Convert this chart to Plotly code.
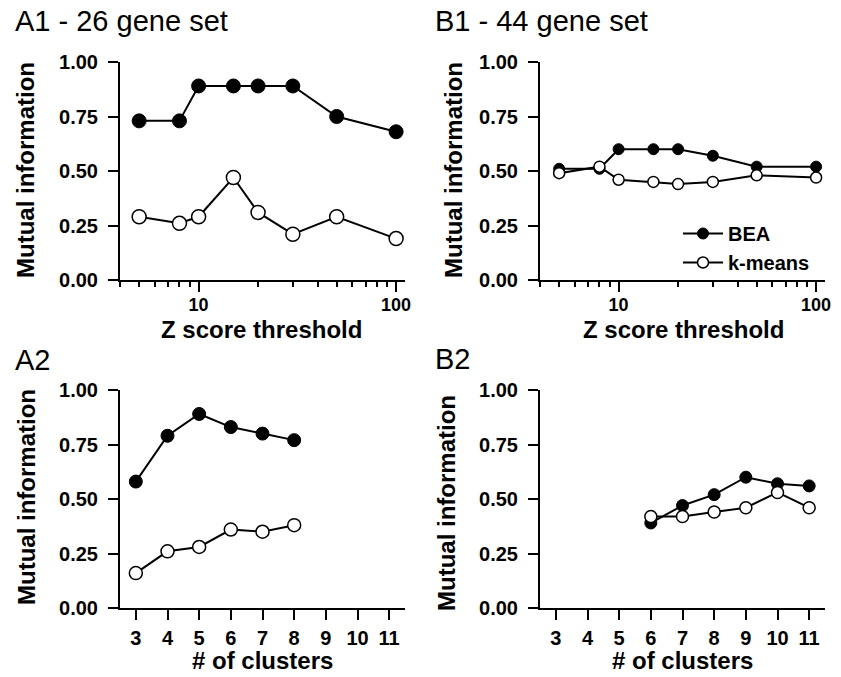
import plotly.graph_objects as go

# ---------------- data ----------------
z_thresholds = [5, 8, 10, 15, 20, 30, 50, 100]
a1_bea = [0.73, 0.73, 0.89, 0.89, 0.89, 0.89, 0.75, 0.68]
a1_kmeans = [0.29, 0.26, 0.29, 0.47, 0.31, 0.21, 0.29, 0.19]
b1_bea = [0.51, 0.51, 0.60, 0.60, 0.60, 0.57, 0.52, 0.52]
b1_kmeans = [0.49, 0.52, 0.46, 0.45, 0.44, 0.45, 0.48, 0.47]

a2_clusters = [3, 4, 5, 6, 7, 8]
a2_bea = [0.58, 0.79, 0.89, 0.83, 0.80, 0.77]
a2_kmeans = [0.16, 0.26, 0.28, 0.36, 0.35, 0.38]

b2_clusters = [6, 7, 8, 9, 10, 11]
b2_bea = [0.39, 0.47, 0.52, 0.60, 0.57, 0.56]
b2_kmeans = [0.42, 0.42, 0.44, 0.46, 0.53, 0.46]

y_ticks = [0, 0.25, 0.5, 0.75, 1.0]
log_major = [10, 100]
log_minor = [4, 5, 6, 7, 8, 9, 20, 30, 40, 50, 60, 70, 80, 90]
cluster_ticks = [3, 4, 5, 6, 7, 8, 9, 10, 11]

panel_titles = ["A1 - 26 gene set", "B1 - 44 gene set", "A2", "B2"]
series_names = ["BEA", "k-means"]

# ---------------- layout helpers ----------------
W, H = 841, 677
FONT = "Liberation Sans, Arial, sans-serif"

def px_x(v):
    return v / W

def px_y(v):
    return 1 - v / H

panels = {
    "A1": dict(x0=120, x1=405, y0=62, y1=280),
    "B1": dict(x0=540, x1=825, y0=62, y1=280),
    "A2": dict(x0=120, x1=405, y0=390, y1=608),
    "B2": dict(x0=540, x1=825, y0=390, y1=608),
}

fig = go.Figure()

def add_series(xs, bea, km, xa, ya, size, show):
    fig.add_trace(go.Scatter(
        x=xs, y=bea, mode="lines+markers", name=series_names[0],
        xaxis=xa, yaxis=ya, showlegend=show, legendgroup="bea",
        line=dict(color="black", width=2),
        marker=dict(symbol="circle", size=size, color="black",
                    line=dict(color="black", width=1)),
    ))
    fig.add_trace(go.Scatter(
        x=xs, y=km, mode="lines+markers", name=series_names[1],
        xaxis=xa, yaxis=ya, showlegend=show, legendgroup="km",
        line=dict(color="black", width=2),
        marker=dict(symbol="circle", size=size, color="white",
                    line=dict(color="black", width=1.5)),
    ))

add_series(z_thresholds, a1_bea, a1_kmeans, "x", "y", 14, False)
add_series(z_thresholds, b1_bea, b1_kmeans, "x2", "y2", 11, True)
add_series(a2_clusters, a2_bea, a2_kmeans, "x3", "y3", 13, False)
add_series(b2_clusters, b2_bea, b2_kmeans, "x4", "y4", 12, False)

axis_common = dict(
    showline=True, linewidth=2, linecolor="black", mirror=False,
    ticks="outside", ticklen=10, tickwidth=2, tickcolor="black",
    showgrid=False, zeroline=False, automargin=False,
    tickfont=dict(family=FONT, size=20, color="black", weight="bold"),
)

layout = dict(
    width=W, height=H,
    margin=dict(l=0, r=0, t=0, b=0, pad=0, autoexpand=False),
    paper_bgcolor="white", plot_bgcolor="white",
    font=dict(family=FONT, color="black"),
)

keys = ["A1", "B1", "A2", "B2"]
for i, k in enumerate(keys):
    p = panels[k]
    sx = "" if i == 0 else str(i + 1)
    xdom = [px_x(p["x0"]), px_x(p["x1"])]
    ydom = [px_y(p["y1"]), px_y(p["y0"])]
    if k in ("A1", "B1"):
        xa = dict(axis_common, domain=xdom, anchor="y" + sx, type="log",
                  range=[0.602, 2.045], tickmode="array", tickvals=log_major,
                  ticktext=[str(v) for v in log_major], ticklabelstandoff=-3,
                  tickfont=dict(family=FONT, size=18, color="black", weight="bold"),
                  minor=dict(tickmode="array", tickvals=log_minor, ticks="outside",
                             ticklen=5, tickwidth=2, tickcolor="black", showgrid=False))
    else:
        xa = dict(axis_common, domain=xdom, anchor="y" + sx,
                  range=[2.5, 11.5], tickmode="array", tickvals=cluster_ticks,
                  ticktext=[str(v) for v in cluster_ticks], ticklabelstandoff=1)
    ya = dict(axis_common, domain=ydom, anchor="x" + sx, range=[0, 1],
              tickmode="array", tickvals=y_ticks,
              ticktext=["%.2f" % v for v in y_ticks], ticklabelstandoff=6)
    layout["xaxis" + sx] = xa
    layout["yaxis" + sx] = ya

fig.update_layout(**layout)

# panel titles
title_pos = {"A1": (13, 21), "B1": (433, 21), "A2": (13, 360), "B2": (433, 359)}
for k, t in zip(keys, panel_titles):
    x, y = title_pos[k]
    fig.add_annotation(text=t, xref="paper", yref="paper", x=px_x(x), y=px_y(y),
                       xanchor="left", yanchor="middle", showarrow=False,
                       font=dict(family=FONT, size=29, color="black"))

# y-axis titles
ytitle_pos = {"A1": (25, 170), "B1": (453, 170), "A2": (26, 497), "B2": (446, 503)}
for k in keys:
    x, y = ytitle_pos[k]
    fig.add_annotation(text="Mutual information", xref="paper", yref="paper",
                       x=px_x(x), y=px_y(y), textangle=-90, showarrow=False,
                       xanchor="center", yanchor="middle",
                       font=dict(family=FONT, size=24, color="black", weight="bold"))

# x-axis titles
xtitle = {"A1": ("Z score threshold", 261, 329), "B1": ("Z score threshold", 683, 329),
          "A2": ("# of clusters", 262, 660), "B2": ("# of clusters", 682, 660)}
for k in keys:
    t, x, y = xtitle[k]
    fig.add_annotation(text=t, xref="paper", yref="paper", x=px_x(x), y=px_y(y),
                       showarrow=False, xanchor="center", yanchor="middle",
                       font=dict(family=FONT, size=24, color="black", weight="bold"))

fig.update_layout(
    legend=dict(x=px_x(678), y=px_y(214), xanchor="left", yanchor="top",
                bgcolor="rgba(0,0,0,0)", borderwidth=0,
                font=dict(family=FONT, size=20, color="black", weight="bold"),
                itemwidth=40, tracegroupgap=0),
)

fig.write_html("out.html",
               config={"displayModeBar": False},
               post_script="document.body.style.margin='0px';document.body.style.overflow='hidden';")
